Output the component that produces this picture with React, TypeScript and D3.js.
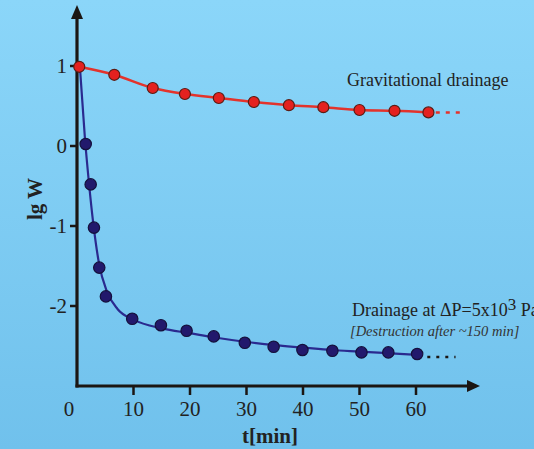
import { useEffect, useRef } from "react";
import * as d3 from "d3";

// gravitational drainage (red), lg W vs t[min]
const redT = [0.4, 6.6, 13.4, 19.1, 25.1, 31.3, 37.5, 43.6, 50.0, 56.2, 62.2];
const redW = [0.99, 0.89, 0.725, 0.65, 0.6, 0.55, 0.51, 0.485, 0.45, 0.44, 0.42];
const redTail = [63.5, 68];

// drainage at dP (blue) measured points
const blueT = [1.54, 2.42, 3.0, 3.94, 5.12, 9.77, 14.85, 19.4, 24.2, 29.7, 34.8, 39.9, 45.2, 50.35, 55.1, 60.2];
const blueW = [0.025, -0.48, -1.02, -1.52, -1.88, -2.16, -2.24, -2.31, -2.38, -2.46, -2.51, -2.55, -2.56, -2.58, -2.58, -2.6];
const blueTail = [62, 67];

// fitted curve through the blue points
const fitT = [0.5, 1.4, 2.1, 2.9, 3.9, 5.3, 7.2, 10, 15, 20, 25, 30, 35, 40, 45, 50, 55, 60.2];
const fitW = [1.0, 0.1, -0.45, -0.98, -1.47, -1.82, -2.04, -2.17, -2.28, -2.34, -2.4, -2.45, -2.49, -2.52, -2.55, -2.57, -2.59, -2.61];

const xTicks = [0, 10, 20, 30, 40, 50, 60];
const yTicks = [1, 0, -1, -2];

export default function App() {
  const ref = useRef<SVGSVGElement>(null);

  useEffect(() => {
    const svg = d3.select(ref.current);
    svg.selectAll("*").remove();

    const W = 534, H = 449;
    const x = d3.scaleLinear().domain([0, 60]).range([77, 416]);
    const y = d3.scaleLinear().domain([-2, 1]).range([306, 66]);
    const x0 = x(0), yBase = 386;
    const ink = "#1b1613";
    const font = "'Liberation Serif', 'Times New Roman', serif";

    // background
    const grad = svg.append("defs").append("linearGradient")
      .attr("id", "bg").attr("x1", 0).attr("y1", 0).attr("x2", 0).attr("y2", 1);
    grad.append("stop").attr("offset", "0%").attr("stop-color", "#8bd6f9");
    grad.append("stop").attr("offset", "100%").attr("stop-color", "#70c1ec");
    svg.append("rect").attr("width", W).attr("height", H).attr("fill", "url(#bg)");

    // axes
    svg.append("line")
      .attr("x1", x0).attr("x2", x0).attr("y1", yBase + 1.5).attr("y2", 18)
      .attr("stroke", ink).attr("stroke-width", 3.2);
    svg.append("path").attr("d", `M${x0 - 6},${19} L${x0},${5} L${x0 + 6},${19} Z`).attr("fill", ink);
    svg.append("line")
      .attr("x1", x0 - 1.5).attr("x2", 469).attr("y1", yBase).attr("y2", yBase)
      .attr("stroke", ink).attr("stroke-width", 3.2);
    svg.append("path").attr("d", `M467,${yBase - 6} L480,${yBase} L467,${yBase + 6} Z`).attr("fill", ink);

    // y ticks
    yTicks.forEach(v => {
      svg.append("line")
        .attr("x1", x0 - 7).attr("x2", x0).attr("y1", y(v)).attr("y2", y(v))
        .attr("stroke", ink).attr("stroke-width", 2.5);
      svg.append("text")
        .attr("x", 67).attr("y", y(v) + 7)
        .attr("text-anchor", "end")
        .attr("font-family", font).attr("font-size", 21)
        .attr("fill", "#222").text(v);
    });

    // x ticks
    xTicks.forEach(v => {
      if (v > 0) {
        svg.append("line")
          .attr("x1", x(v)).attr("x2", x(v)).attr("y1", yBase).attr("y2", yBase + 9)
          .attr("stroke", ink).attr("stroke-width", 2.5);
      }
      svg.append("text")
        .attr("x", v === 0 ? x(v) - 8 : x(v)).attr("y", 416)
        .attr("text-anchor", "middle")
        .attr("font-family", font).attr("font-size", 21)
        .attr("fill", "#222").text(v);
    });

    // axis labels
    svg.append("text")
      .attr("x", 270).attr("y", 443)
      .attr("text-anchor", "middle")
      .attr("font-family", font).attr("font-size", 21).attr("font-weight", "bold")
      .attr("fill", "#222").text("t[min]");
    svg.append("text")
      .attr("transform", "translate(42,199) rotate(-90)")
      .attr("text-anchor", "middle")
      .attr("font-family", font).attr("font-size", 21).attr("font-weight", "bold")
      .attr("fill", "#222").text("lg W");

    const line = d3.line<[number, number]>()
      .x(d => x(d[0])).y(d => y(d[1]))
      .curve(d3.curveMonotoneX);

    // red series
    const red: [number, number][] = redT.map((t, i) => [t, redW[i]]);
    svg.append("path").attr("d", line(red)).attr("fill", "none")
      .attr("stroke", "#e3332c").attr("stroke-width", 2.5);
    svg.append("line")
      .attr("x1", x(redTail[0])).attr("x2", x(redTail[1]))
      .attr("y1", y(redW[redW.length - 1])).attr("y2", y(redW[redW.length - 1]))
      .attr("stroke", "#e3332c").attr("stroke-width", 2.5).attr("stroke-dasharray", "4,6");

    // blue fit curve
    const fit: [number, number][] = fitT.map((t, i) => [t, fitW[i]]);
    svg.append("path").attr("d", line(fit)).attr("fill", "none")
      .attr("stroke", "#2a2a8f").attr("stroke-width", 2.2);
    svg.append("line")
      .attr("x1", x(blueTail[0])).attr("x2", x(blueTail[1]))
      .attr("y1", y(blueW[blueW.length - 1]) + 3).attr("y2", y(blueW[blueW.length - 1]) + 3)
      .attr("stroke", ink).attr("stroke-width", 2.5).attr("stroke-dasharray", "3,6");

    // points
    svg.selectAll(".rp").data(red).enter().append("circle")
      .attr("cx", d => x(d[0])).attr("cy", d => y(d[1])).attr("r", 5.5)
      .attr("fill", "#e4211f").attr("stroke", "#5a1c14").attr("stroke-width", 1.2);
    svg.selectAll(".bp").data(blueT.map((t, i) => [t, blueW[i]])).enter().append("circle")
      .attr("cx", d => x(d[0])).attr("cy", d => y(d[1])).attr("r", 5.7)
      .attr("fill", "#22196c").attr("stroke", "#15103c").attr("stroke-width", 1.2);

    // annotations
    svg.append("text")
      .attr("x", 347).attr("y", 86)
      .attr("font-family", font).attr("font-size", 18)
      .attr("fill", "#222").text("Gravitational drainage");
    const t2 = svg.append("text")
      .attr("x", 352).attr("y", 316)
      .attr("font-family", font).attr("font-size", 18)
      .attr("fill", "#222");
    t2.append("tspan").text("Drainage at \u0394P=5x10");
    t2.append("tspan").attr("dy", -6).attr("font-size", 17).text("3");
    t2.append("tspan").attr("dy", 6).text(" Pa");
    svg.append("text")
      .attr("x", 350).attr("y", 336)
      .attr("font-family", font).attr("font-size", 14.5).attr("font-style", "italic")
      .attr("fill", "#333").text("[Destruction after ~150 min]");
  }, []);

  return (
    <svg ref={ref} width={534} height={449}
      style={{ position: "absolute", left: 0, top: 0, display: "block" }} />
  );
}
